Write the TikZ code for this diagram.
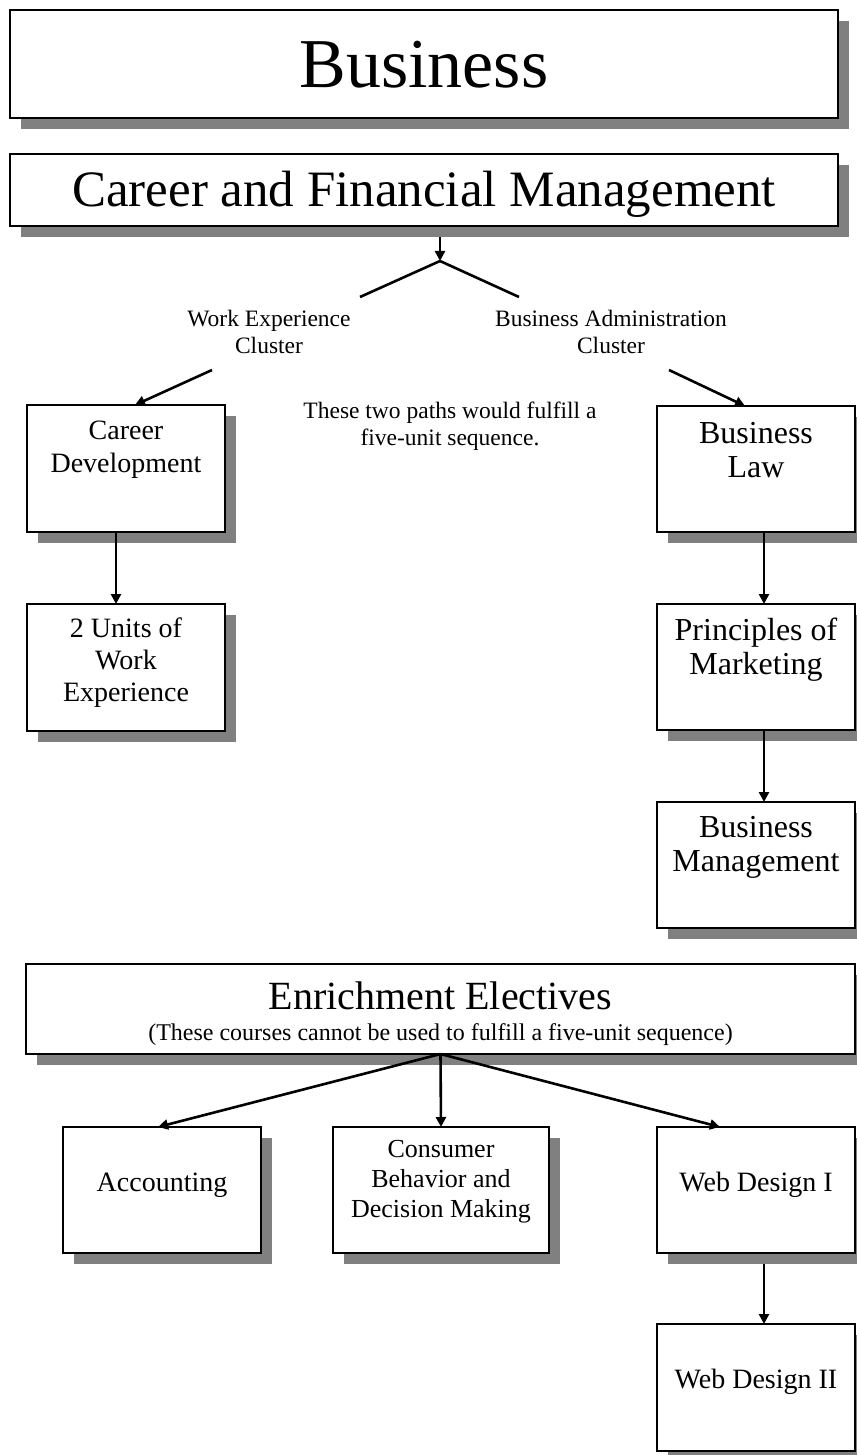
\documentclass[tikz,border=0pt]{standalone}
\usepackage{fontspec}
\setmainfont{Liberation Serif}
\usetikzlibrary{shadows,arrows.meta}
\pgfdeclarelayer{background}
\pgfsetlayers{background,main}
\definecolor{shadowgray}{RGB}{128,128,128}
\newcommand{\topfill}[4]{\parbox[c][#2][t]{#1}{\centering\vspace*{#3}\strut #4\par}}
\newcommand{\lbltext}[1]{\parbox[t]{400pt}{\centering #1\par}}
\tikzset{
  box/.style={draw, line width=1.6pt, fill=white, inner sep=0pt, outer sep=0pt,
    drop shadow={shadow xshift=11pt, shadow yshift=-11pt, fill=shadowgray, opacity=1}},
  lbl/.style={font=\fontsize{23.5}{27}\selectfont, inner sep=0pt, anchor=base},
  conn/.style={line width=2.6pt},
  arrow/.style={line width=2.6pt, -{Triangle[length=10pt,width=10pt]}},
  f32/.style={font=\fontsize{32}{34.5}\selectfont}
}
\begin{document}
\begin{tikzpicture}[x=1pt,y=-1pt]
\useasboundingbox (0,0) rectangle (856,1455);

% title boxes
\node[box, minimum width=828pt, minimum height=108pt, font=\fontsize{70}{80}\selectfont,
  text height=47pt, text depth=0pt] (bus) at (424,64) {Business};
\node[box, minimum width=828pt, minimum height=72pt, font=\fontsize{51}{60}\selectfont,
  text height=34pt, text depth=0pt] (cfm) at (424,190) {Career and Financial Management};

% cluster labels
\node[lbl] (wec) at (269,326) {\lbltext{Work Experience\\Cluster}};
\node[lbl] (bac) at (611,326) {\lbltext{Business Administration\\Cluster}};
\node[lbl] (paths) at (450,418) {\lbltext{These two paths would fulfill a\\five-unit sequence.}};

% left column
\node[box, font=\fontsize{28}{33}\selectfont] (cd) at (126,468.5) {\topfill{198pt}{127pt}{11pt}{Career\\Development}};
\node[box, font=\fontsize{28}{32}\selectfont] (wu) at (126,667.5) {\topfill{198pt}{127pt}{10.6pt}{2 Units of\\Work\\Experience}};

% right column
\node[box, f32] (bl) at (756,469) {\topfill{198pt}{126pt}{13pt}{Business\\Law}};
\node[box, f32] (pm) at (756,667) {\topfill{198pt}{126pt}{12pt}{Principles of\\Marketing}};
\node[box, f32] (bm) at (756,865) {\topfill{198pt}{126pt}{11pt}{Business\\Management}};

% enrichment
\node[box] (ee) at (440.5,1009) {\parbox[c][90pt][t]{829pt}{\centering\vspace*{14.2pt}%
  {\fontsize{40}{44}\selectfont\strut Enrichment Electives\par}%
  {\fontsize{24}{30}\selectfont (These courses cannot be used to fulfill a five-unit sequence)\par}}};

\node[box, font=\fontsize{28}{32}\selectfont] (acc) at (162,1190) {\topfill{198pt}{126pt}{41.6pt}{Accounting}};
\node[box, font=\fontsize{26}{30}\selectfont] (cb) at (441,1190) {\topfill{216pt}{126pt}{9pt}{Consumer\\Behavior and\\Decision Making}};
\node[box, font=\fontsize{28}{32}\selectfont] (wd1) at (756,1190) {\topfill{198pt}{126pt}{41.6pt}{Web Design I}};
\node[box, font=\fontsize{28}{32}\selectfont] (wd2) at (756,1387.5) {\topfill{198pt}{127pt}{41.6pt}{Web Design II}};

% connectors
\coordinate (split) at (440,261);
\coordinate (bleft) at (360,297);
\coordinate (bright) at (519,297);
\coordinate (wl) at (212,370);
\coordinate (wr) at (669,370);

\begin{pgfonlayer}{background}
\draw[arrow] (cfm.south -| split) -- (split);
\draw[arrow] ([xshift=8pt]wd1.south) -- ([xshift=8pt]wd2.north);
\end{pgfonlayer}
\draw[conn] (split) -- (bleft);
\draw[conn] (split) -- (bright);
\draw[arrow] (wl) -- ([xshift=9pt]cd.north);
\draw[arrow] (wr) -- ([xshift=-11pt]bl.north);
\draw[arrow] ([xshift=-10pt]cd.south) -- ([xshift=-10pt]wu.north);
\draw[arrow] ([xshift=8pt]bl.south) -- ([xshift=8pt]pm.north);
\draw[arrow] ([xshift=8pt]pm.south) -- ([xshift=8pt]bm.north);
\draw[arrow] (ee.south) -- ([xshift=-4pt]acc.north);
\draw[arrow] (ee.south) -- (cb.north);
\draw[arrow] (ee.south) -- ([xshift=-36pt]wd1.north);
\end{tikzpicture}
\end{document}
